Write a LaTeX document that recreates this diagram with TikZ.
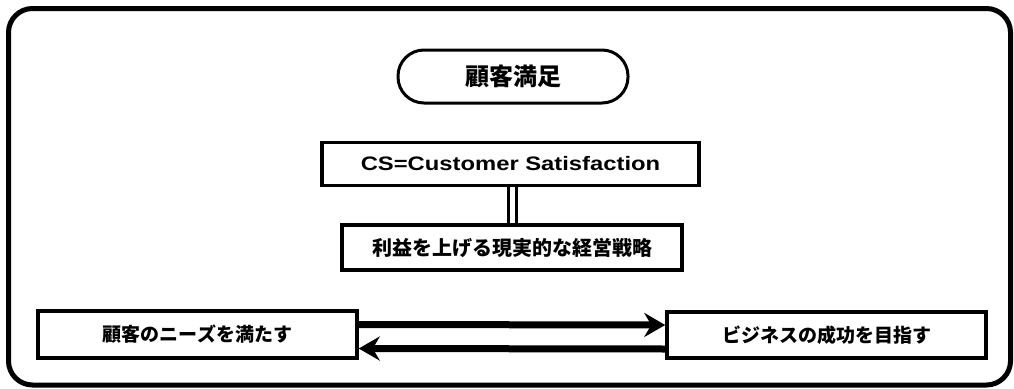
\documentclass[tikz,border=0pt]{standalone}
\usepackage{fontspec}
\setmainfont{Noto Sans CJK JP}
\newfontfamily\latinwide{Liberation Sans}[FakeStretch=1.22]
\usetikzlibrary{arrows.meta}
\tikzset{
  px/.style={x=1pt,y=-1pt},
  boxstyle/.style={draw=black, line width=3.5pt, fill=white, inner sep=0pt, font=\bfseries},
  pillstyle/.style={draw=black, line width=3pt, rounded corners=26pt, fill=white},
  flowarrow/.style={line width=7pt, -{Stealth[length=21pt,width=24pt,inset=7pt]}},
}
\begin{document}
\begin{tikzpicture}[px]
\useasboundingbox (0,0) rectangle (1014,388);
% outer frame
\draw[line width=5pt, rounded corners=24pt] (8.5,8.5) rectangle (1010.5,385);
% pill
\draw[pillstyle] (398,50) rectangle (628,103);
\node[font=\bfseries\fontsize{24}{28}\selectfont] (cs0) at (513,76.5) {顧客満足};
% CS box
\node[boxstyle, minimum width=377pt, minimum height=43pt, font=\latinwide\bfseries\fontsize{19.5}{23}\selectfont] (cs) at (510.5,164) {CS=Customer Satisfaction};
% strategy box
\node[boxstyle, minimum width=340pt, minimum height=45pt, font=\bfseries\fontsize{20}{24}\selectfont] (st) at (512,247.5) {利益を上げる現実的な経営戦略};
% double connector
\draw[line width=3pt, double=white, double distance=5pt] (cs.south -| 512,0) -- (st.north -| 512,0);
% bottom boxes
\node[boxstyle, minimum width=319pt, minimum height=47pt, font=\bfseries\fontsize{19}{23}\selectfont] (need) at (197.5,334.5) {顧客のニーズを満たす};
\node[boxstyle, minimum width=319pt, minimum height=46pt, font=\bfseries\fontsize{19}{23}\selectfont] (biz) at (826.5,335) {ビジネスの成功を目指す};
\coordinate (a1) at ([yshift=10pt]need.east);
\coordinate (b1) at ([yshift=10pt]biz.west);
\coordinate (a2) at ([yshift=-14pt]need.east);
\coordinate (b2) at ([yshift=-14pt]biz.west);
\draw[flowarrow] (a1) -- (b1);
\draw[flowarrow] (b2) -- (a2);
\end{tikzpicture}
\end{document}
